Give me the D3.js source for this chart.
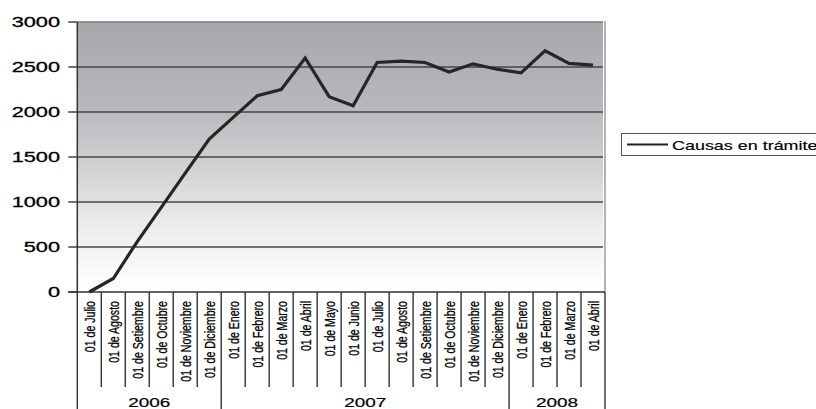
<!DOCTYPE html>
<html><head><meta charset="utf-8">
<script src="https://cdn.jsdelivr.net/npm/d3@7"></script>
<style>html,body{margin:0;padding:0;background:#fff;}svg{display:block;}</style>
</head><body>
<svg id="c" width="816" height="409"></svg>
<script>
const months = ["01 de Julio","01 de Agosto","01 de Setiembre","01 de Octubre","01 de Noviembre","01 de Diciembre",
  "01 de Enero","01 de Febrero","01 de Marzo","01 de Abril","01 de Mayo","01 de Junio","01 de Julio","01 de Agosto",
  "01 de Setiembre","01 de Octubre","01 de Noviembre","01 de Diciembre",
  "01 de Enero","01 de Febrero","01 de Marzo","01 de Abril"];
const years = ["2006","2007","2008"];
const yearCounts = [6,12,4];
const causas = [0,150,560,940,1320,1700,1940,2180,2250,2600,2170,2070,2550,2565,2550,2445,2535,2475,2435,2680,2540,2520];
const yTicks = [0,500,1000,1500,2000,2500,3000];
const seriesName = "Causas en trámite";

const svg = d3.select("#c");
const L = 77.3, R = 605, T = 22, B = 292;
const font = "'Liberation Sans', Arial, sans-serif";
const idx = d3.range(months.length);
const x = d3.scaleBand().domain(idx).range([L, R]).padding(0);
const y = d3.scaleLinear().domain([0,3000]).range([B, T]);

const defs = svg.append("defs");
const g = defs.append("linearGradient").attr("id","bg").attr("x1",0).attr("y1",0).attr("x2",0).attr("y2",1);
[[0,"#a7a8ac"],[0.3,"#b6b7ba"],[0.55,"#d3d3d5"],[0.75,"#ececed"],[0.9,"#f8f8f8"],[1,"#ffffff"]]
  .forEach(([o,c]) => g.append("stop").attr("offset",o).attr("stop-color",c));

svg.append("rect").attr("x",L).attr("y",T).attr("width",R-2-L).attr("height",B-T).attr("fill","url(#bg)");
svg.append("line").attr("x1",R).attr("x2",R).attr("y1",T-1).attr("y2",B).attr("stroke","#9a9a9a").attr("stroke-width",1.5);

svg.append("g").selectAll("line").data(yTicks.filter(d=>d>0)).join("line")
  .attr("x1",L).attr("x2",R-2).attr("y1",d=>y(d)).attr("y2",d=>y(d))
  .attr("stroke",d=>d===3000?"#7a7a7a":"#444").attr("stroke-width",1.4);

svg.append("g").selectAll("line").data(yTicks).join("line")
  .attr("x1",L-9).attr("x2",L).attr("y1",d=>y(d)).attr("y2",d=>y(d))
  .attr("stroke","#333").attr("stroke-width",1.4);
svg.append("g").selectAll("text").data(yTicks).join("text")
  .attr("transform",d=>`translate(60,${y(d)}) scale(1.5,1)`)
  .attr("dy","0.36em").attr("text-anchor","end")
  .attr("font-family",font).attr("font-size",14.5).attr("fill","#000")
  .attr("stroke","#000").attr("stroke-width",0.3).text(d=>d);
svg.append("line").attr("x1",L).attr("x2",L).attr("y1",T).attr("y2",B).attr("stroke","#333").attr("stroke-width",1.5);

svg.append("line").attr("x1",L-9).attr("x2",R).attr("y1",B).attr("y2",B).attr("stroke","#333").attr("stroke-width",1.5);
const yearStarts = [0];
yearCounts.forEach((c,i)=>yearStarts.push(yearStarts[i]+c));
const sepIdx = d3.range(months.length+1);
svg.append("g").selectAll("line").data(sepIdx).join("line")
  .attr("x1",d=> d<months.length ? x(d) : x(d-1)+x.bandwidth())
  .attr("x2",d=> d<months.length ? x(d) : x(d-1)+x.bandwidth())
  .attr("y1",B).attr("y2",d=> yearStarts.includes(d) ? 409 : 387)
  .attr("stroke","#333").attr("stroke-width",1.4);

svg.append("g").selectAll("text").data(idx).join("text")
  .attr("transform",d=>`translate(${x(d)+x.bandwidth()/2},301) scale(1.45,1) rotate(-90)`)
  .attr("dy","0.36em").attr("text-anchor","end")
  .attr("font-family",font).attr("font-size",10.6).attr("fill","#000")
  .attr("stroke","#000").attr("stroke-width",0.2).text(d=>months[d]);

svg.append("g").selectAll("text").data(years).join("text")
  .attr("transform",(d,i)=>{
    const a = x(yearStarts[i]);
    const e = x(yearStarts[i+1]-1)+x.bandwidth();
    return `translate(${(a+e)/2},406.5) scale(1.4,1)`;})
  .attr("text-anchor","middle")
  .attr("font-family",font).attr("font-size",13.5).attr("fill","#000")
  .attr("stroke","#000").attr("stroke-width",0.2).text(d=>d);

const line = d3.line().x((d,i)=>x(i)+x.bandwidth()/2).y(d=>y(d));
svg.append("path").datum(causas).attr("d",line).attr("fill","none")
  .attr("stroke","#262626").attr("stroke-width",3.2).attr("stroke-linejoin","miter");

svg.append("rect").attr("x",621.5).attr("y",133.5).attr("width",210).attr("height",22)
  .attr("fill","#fff").attr("stroke","#555").attr("stroke-width",1);
svg.append("line").attr("x1",627).attr("x2",668).attr("y1",144.5).attr("y2",144.5).attr("stroke","#222").attr("stroke-width",2);
svg.append("text").attr("transform","translate(672,149.5) scale(1.38,1)")
  .attr("font-family",font).attr("font-size",13).attr("fill","#000")
  .attr("stroke","#000").attr("stroke-width",0.15).text(seriesName);
</script>
</body></html>
